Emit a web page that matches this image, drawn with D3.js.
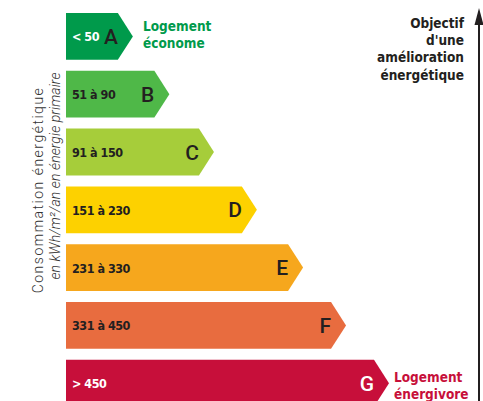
<!DOCTYPE html>
<html>
<head>
<meta charset="utf-8">
<script src="https://cdn.jsdelivr.net/npm/d3@7"></script>
<style>
  body { margin: 0; background: #fff; }
  svg { display: block; }
</style>
</head>
<body>
<svg id="chart" width="483" height="401"></svg>
<script>
// energy classes, from best to worst
const classes = ["A", "B", "C", "D", "E", "F", "G"];
const ranges = ["< 50", "51 à 90", "91 à 150", "151 à 230", "231 à 330", "331 à 450", "> 450"];
// arrow length, relative to the longest one (G = 100)
const lengths = [20.7, 32, 45.8, 59.1, 73.4, 86.7, 100];
const colors = ["#009a4b", "#4fb848", "#a6cd3a", "#fdd100", "#f6a71d", "#e86c3f", "#c70f3a"];
const lightText = ["A", "G"];

const svg = d3.select("#chart");

const x = d3.scaleLinear().domain([0, 100]).range([66, 389]);
const y = d3.scaleBand().domain(classes).range([13, 406.6]).paddingInner(0.19).paddingOuter(0);

const tip = 15;
const bars = svg.selectAll("g.bar")
    .data(classes)
    .join("g")
    .attr("class", "bar");

bars.append("path")
    .attr("fill", (d, i) => colors[i])
    .attr("d", (d, i) => {
        const x0 = x(0), x1 = x(lengths[i]);
        const y0 = y(d), y1 = y(d) + y.bandwidth(), ym = (y0 + y1) / 2;
        return `M${x0},${y0}H${x1 - tip}L${x1},${ym}L${x1 - tip},${y1}H${x0}Z`;
    });

// range labels
bars.append("text")
    .attr("x", 72)
    .attr("y", d => y(d) + y.bandwidth() / 2 + 5)
    .attr("fill", d => lightText.includes(d) ? "#fff" : "#231f20")
    .style("font", "bold 12.5px 'DejaVu Sans Condensed', 'DejaVu Sans'")
    .style("font-stretch", "condensed")
    .style("letter-spacing", "-0.5px")
    .text((d, i) => ranges[i]);

// class letters
bars.append("text")
    .attr("x", (d, i) => x(lengths[i]) - tip)
    .attr("y", d => y(d) + y.bandwidth() / 2 + 7.5)
    .attr("text-anchor", "end")
    .attr("fill", d => d === "G" ? "#fff" : "#231f20")
    .style("font", "500 21px Roboto, 'DejaVu Sans'")
    .text(d => d);

const bold = "bold 13.5px 'DejaVu Sans Condensed', 'DejaVu Sans'";

// side notes
const best = svg.append("text")
    .attr("fill", colors[0])
    .style("font", bold)
    .style("font-stretch", "condensed");
best.append("tspan").attr("x", 143).attr("y", 31).text("Logement");
best.append("tspan").attr("x", 143).attr("y", 48).text("économe");

const worst = svg.append("text")
    .attr("fill", colors[6])
    .style("font", bold)
    .style("font-stretch", "condensed");
worst.append("tspan").attr("x", 394).attr("y", 382).text("Logement");
worst.append("tspan").attr("x", 394).attr("y", 399).text("énergivore");

const goal = ["Objectif", "d'une", "amélioration", "énergétique"];
svg.append("text")
    .attr("fill", "#231f20")
    .attr("text-anchor", "end")
    .style("font", bold)
    .style("font-stretch", "condensed")
    .selectAll("tspan")
    .data(goal)
    .join("tspan")
    .attr("x", 464)
    .attr("y", (d, i) => 28 + i * 17.2)
    .text(d => d);

// improvement arrow
svg.append("line")
    .attr("x1", 479).attr("x2", 479)
    .attr("y1", 401).attr("y2", 22)
    .attr("stroke", "#231f20")
    .attr("stroke-width", 2);
svg.append("path")
    .attr("d", "M479,8L483.5,25H474.5Z")
    .attr("fill", "#231f20");

// axis title
const title = svg.append("g").attr("transform", "translate(43,190) rotate(-90)");
title.append("text")
    .attr("text-anchor", "middle")
    .attr("fill", "#333")
    .style("font", "300 14px Roboto, 'DejaVu Sans'")
    .style("letter-spacing", "1.5px")
    .text("Consommation énergétique");
title.append("text")
    .attr("text-anchor", "middle")
    .attr("x", 14)
    .attr("y", 17)
    .attr("fill", "#333")
    .style("font", "italic 300 14px Roboto, 'DejaVu Sans'")
    .style("letter-spacing", "0.1px")
    .text("en kWh/m²/an en énergie primaire");
</script>
</body>
</html>
